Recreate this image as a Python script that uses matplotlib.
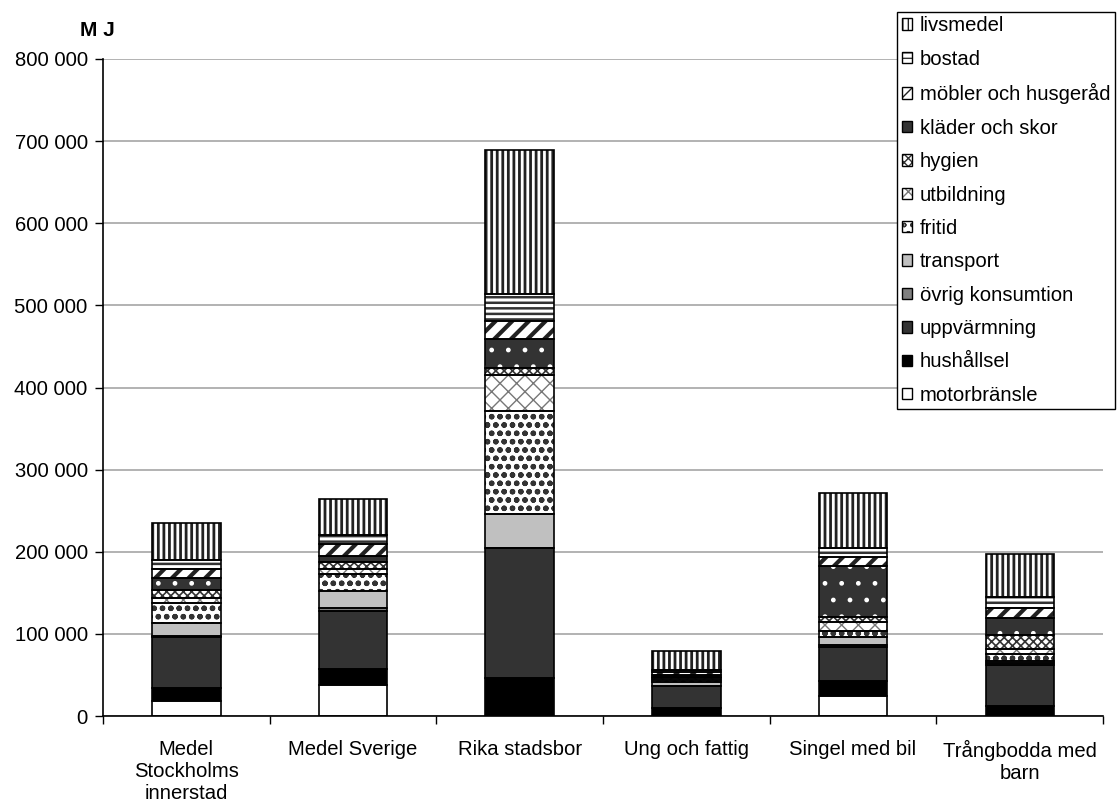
import numpy as np
import matplotlib.pyplot as plt
from matplotlib.patches import Patch
from matplotlib.ticker import FuncFormatter, MultipleLocator

plt.rcParams['font.family'] = ['Liberation Sans', 'DejaVu Sans']

# hushållstyper
kategorier = ["Medel\nStockholms\ninnerstad", "Medel Sverige", "Rika stadsbor",
              "Ung och fattig", "Singel med bil", "Trångbodda med\nbarn"]

# energi per post (MJ), staplas nerifrån och upp
motorbransle = [18000, 38000, 0, 0, 24000, 0]
hushallsel = [16000, 19000, 46000, 10000, 19000, 12000]
uppvarmning = [62000, 71000, 159000, 26000, 41000, 50000]
ovrig = [2000, 3000, 0, 1000, 3000, 2000]
transport = [15000, 21000, 41000, 4000, 9000, 3000]
fritid = [25000, 21000, 125000, 3000, 8000, 8000]
utbildning = [6000, 6000, 44000, 2000, 10000, 6000]
hygien = [10000, 8000, 9000, 2000, 7000, 18000]
klader = [14000, 8000, 35000, 2000, 62000, 20000]
mobler = [11000, 14000, 22000, 3000, 10000, 13000]
bostad = [11000, 11000, 33000, 3000, 11000, 13000]
livsmedel = [45000, 44000, 175000, 23000, 68000, 52000]

poster = ["motorbränsle", "hushållsel", "uppvärmning", "övrig konsumtion", "transport",
          "fritid", "utbildning", "hygien", "kläder och skor", "möbler och husgeråd",
          "bostad", "livsmedel"]
varden = [motorbransle, hushallsel, uppvarmning, ovrig, transport, fritid,
          utbildning, hygien, klader, mobler, bostad, livsmedel]

# (fyllnad, mönster, mönsterfärg, mönsterlinjebredd)
stilar = [
    ("white", None, "black", 1.0),
    ("black", None, "black", 1.0),
    ("#333333", None, "black", 1.0),
    ("#808080", None, "black", 1.0),
    ("#c0c0c0", None, "black", 1.0),
    ("white", "oo", "#333333", 1.6),
    ("white", "xx", "#777777", 1.0),
    ("white", "xxxx", "#333333", 1.2),
    ("#333333", ".", "white", 1.0),
    ("white", "//", "#222222", 3.0),
    ("white", "---", "#333333", 1.8),
    ("white", "|||", "#222222", 2.0),
]

fs = 14.6

fig = plt.figure(figsize=(11.17, 8.09), dpi=100)
ax = fig.add_axes([103 / 1117, 93 / 809, 1000 / 1117, 657 / 809])

x = np.arange(len(kategorier))
bredd = 0.41
botten = np.zeros(len(kategorier))
handtag = []
for namn, v, (fc, hatch, hc, hlw) in zip(poster, varden, stilar):
    v = np.array(v, dtype=float)
    with plt.rc_context({'hatch.linewidth': hlw}):
        ax.bar(x, v, bredd, bottom=botten, facecolor=fc, hatch=hatch,
               edgecolor=hc, linewidth=0, zorder=2)
        fyll = Patch(facecolor=fc, hatch=hatch, edgecolor=hc, linewidth=0)
    ram = Patch(fill=False, edgecolor="black", linewidth=1.0)
    handtag.append((fyll, ram))
    ax.bar(x, v, bredd, bottom=botten, fill=False, edgecolor="black",
           linewidth=1.2, zorder=3)
    botten += v

ax.set_xlim(-0.5, 5.5)
ax.set_ylim(0, 800000)
ax.yaxis.set_major_locator(MultipleLocator(100000))
ax.yaxis.set_major_formatter(FuncFormatter(lambda v, p: f"{int(v):,}".replace(",", " ")))
ax.grid(axis='y', color='#a6a6a6', linewidth=1.2, zorder=0)
ax.set_axisbelow(True)

ax.set_xticks(x)
ax.set_xticklabels(kategorier, fontsize=fs, linespacing=1.2)
ax.set_xticks(np.arange(-0.5, 6, 1), minor=True)
ax.tick_params(axis='x', which='major', length=0, pad=17)
ax.tick_params(axis='x', which='minor', length=6, width=1, direction='out')
ax.tick_params(axis='y', labelsize=fs, length=6, width=1, direction='out', pad=5)

for s in ['top', 'right']:
    ax.spines[s].set_visible(False)
for s in ['left', 'bottom']:
    ax.spines[s].set_linewidth(1.2)
    ax.spines[s].set_color('black')

fig.text(97 / 1117, 1 - 30 / 809, "M J", fontsize=15, fontweight='bold',
         ha='center', va='center')

leg = fig.legend(handtag[::-1], poster[::-1], loc='upper right',
                 bbox_to_anchor=(1115 / 1117, 1 - 12 / 809), fontsize=fs,
                 handlelength=0.5, handleheight=0.5, handletextpad=0.4,
                 labelspacing=0.71, borderpad=0.22, borderaxespad=0.0,
                 frameon=True, fancybox=False, edgecolor='black', framealpha=1)
leg.get_frame().set_linewidth(1.0)

fig.savefig("out.png", dpi=100)
